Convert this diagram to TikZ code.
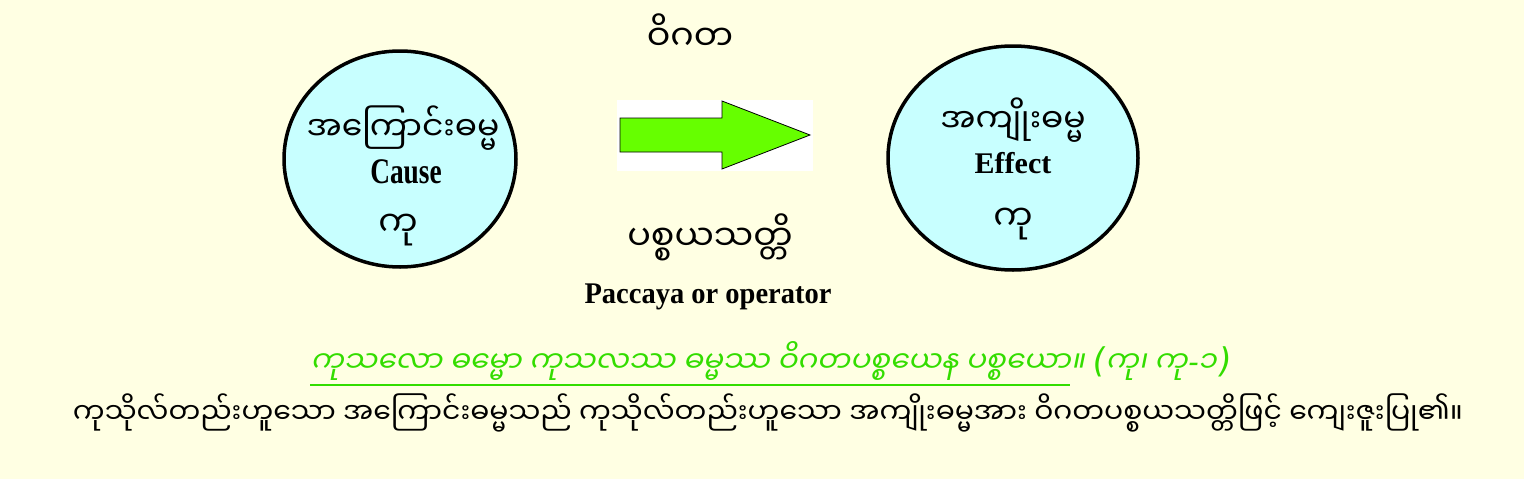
\documentclass[tikz,border=0pt]{standalone}
\usepackage{fontspec}
\setmainfont{Liberation Serif}
\newfontfamily\mya[Script=Myanmar]{Noto Sans Myanmar UI}
\newfontfamily\myait[Script=Myanmar,FakeSlant=0.2]{Noto Sans Myanmar UI}
\newfontfamily\latit[FakeSlant=0.15]{DejaVu Sans}
\definecolor{bg}{HTML}{FFFFE3}
\definecolor{cfill}{HTML}{C8FFFF}
\definecolor{agreen}{HTML}{66FF00}
\definecolor{tgreen}{HTML}{33DD00}
\tikzset{
  x=1pt, y=-1pt,
  circ/.style={draw=black, line width=3.5pt, fill=cfill},
  mytxt/.style={font=\mya\fontsize{35}{40}\selectfont, inner sep=0pt},
  ctxt/.style={font=\mya\fontsize{33}{38}\selectfont, inner sep=0pt},
  entxt/.style={font=\bfseries\fontsize{30}{34}\selectfont, inner sep=0pt},
  grtxt/.style={font=\myait\fontsize{29.5}{34}\selectfont, text=tgreen, inner sep=0pt, anchor=base west},
  arrowshape/.style={draw=black, line width=0.8pt, fill=agreen},
}
\begin{document}
\begin{tikzpicture}
\fill[bg] (0,0) rectangle (1524,479);
\useasboundingbox (0,0) rectangle (1524,479);
% circles
\draw[circ] (400,159) ellipse [x radius=116, y radius=108];
\draw[circ] (1013,158) ellipse [x radius=125, y radius=112];
% arrow
\fill[white] (617,100) rectangle (813,171);
\draw[arrowshape] (620,118) -- (722,118) -- (722,101) -- (810,135) -- (722,169) -- (722,152) -- (620,152) -- cycle;
% top label
\node[mytxt] (vig) at (690,32) {ဝိဂတ};
% cause
\node[ctxt] (c1) at (403,128) {အကြောင်းဓမ္မ};
\node[entxt, font=\bfseries\fontsize{36}{40}\selectfont, xscale=0.76] (c2) at (406,172) {Cause};
\node[mytxt] (c3) at (398,230) {ကု};
% effect
\node[ctxt] (e1) at (1013,120) {အကျိုးဓမ္မ};
\node[entxt] (e2) at (1013,163) {Effect};
\node[mytxt] (e3) at (1013,224) {ကု};
% paccaya
\node[mytxt] (p1) at (710,237) {ပစ္စယသတ္တိ};
\node[entxt, xscale=0.95] (p2) at (708,297) {Paccaya or operator};
% green line
\node[grtxt] (g1) at (310,372) {ကုသလော ဓမ္မော ကုသလဿ ဓမ္မဿ ဝိဂတပစ္စယေန ပစ္စယော};
\node[grtxt] (g2) at (g1.base east) {။ {\latit\fontsize{34}{38}\selectfont(}ကု၊ ကု{\latit-}၁{\latit\fontsize{34}{38}\selectfont)}};
\draw[tgreen, line width=2pt] ([yshift=-13pt]g1.base west) -- ([yshift=-13pt]g1.base east);
% bottom line
\node[inner sep=0pt, font=\mya\fontsize{28.3}{32}\selectfont] (b) at (768,413) {ကုသိုလ်တည်းဟူသော အကြောင်းဓမ္မသည် ကုသိုလ်တည်းဟူသော အကျိုးဓမ္မအား ဝိဂတပစ္စယသတ္တိဖြင့် ကျေးဇူးပြု၏။};
\end{tikzpicture}
\end{document}
